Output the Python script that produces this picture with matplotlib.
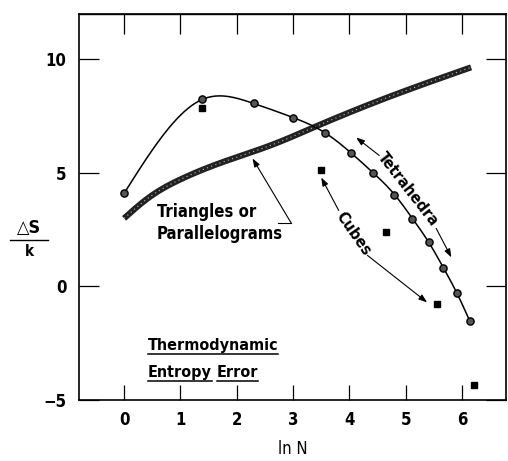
import numpy as np
import matplotlib
matplotlib.use("Agg")
import matplotlib.pyplot as plt
from matplotlib.lines import Line2D

plt.rcParams['font.family'] = ['DejaVu Sans']
plt.rcParams['font.weight'] = 'bold'
plt.rcParams['font.stretch'] = 'condensed'

# ── Data ──────────────────────────────────────────────────────────────────────
tet_x = [0.0, 1.39, 2.30, 3.00, 3.56, 4.03, 4.42, 4.80, 5.12, 5.41, 5.67, 5.91, 6.14]
tet_y = [4.1, 8.24, 8.06, 7.44, 6.78, 5.88, 5.01, 4.05, 2.99, 1.94, 0.82, -0.30, -1.54]

cube_x = [1.38, 3.49, 4.65, 5.56, 6.21]
cube_y = [7.84, 5.11, 2.40, -0.79, -4.32]

tri_x = [0.0, 0.42, 1.03, 1.61, 2.67, 3.36, 4.65, 6.16]
tri_y = [3.0, 3.88, 4.75, 5.35, 6.28, 7.0, 8.3, 9.65]

x_ticks = [0, 1, 2, 3, 4, 5, 6]
y_ticks = [-5, 0, 5, 10]


def smooth(x, y, n=300):
    """Natural cubic spline through the points (for drawing the curve)."""
    x = np.asarray(x, float)
    y = np.asarray(y, float)
    h = np.diff(x)
    m = len(x)
    A = np.zeros((m, m))
    b = np.zeros(m)
    A[0, 0] = A[-1, -1] = 1
    for i in range(1, m - 1):
        A[i, i - 1] = h[i - 1]
        A[i, i] = 2 * (h[i - 1] + h[i])
        A[i, i + 1] = h[i]
        b[i] = 3 * ((y[i + 1] - y[i]) / h[i] - (y[i] - y[i - 1]) / h[i - 1])
    c = np.linalg.solve(A, b)
    bb = (y[1:] - y[:-1]) / h - h * (2 * c[:-1] + c[1:]) / 3
    d = (c[1:] - c[:-1]) / (3 * h)
    xs = np.linspace(x[0], x[-1], n)
    idx = np.clip(np.searchsorted(x, xs) - 1, 0, m - 2)
    dx = xs - x[idx]
    ys = y[idx] + bb[idx] * dx + c[idx] * dx ** 2 + d[idx] * dx ** 3
    return xs, ys


# ── Plot ──────────────────────────────────────────────────────────────────────
fig = plt.figure(figsize=(5.08, 4.61), dpi=100)
ax = fig.add_axes([79 / 508, 1 - 400 / 461, 427 / 508, 386 / 461])

# thick textured line
sx, sy = smooth(tri_x, tri_y)
ax.plot(sx, sy, color="#222222", lw=4.4, solid_capstyle="butt", zorder=2)
ax.plot(sx, sy, color="#bbbbbb", lw=0.8, ls=(0, (1, 3)), zorder=3)

# tetrahedra curve
sx, sy = smooth(tet_x, tet_y)
ax.plot(sx, sy, color="black", lw=1.1, zorder=4)
ax.plot(tet_x, tet_y, "o", ms=5.2, mfc="#555555", mec="black", mew=1.0, zorder=5)

# cubes
ax.plot(cube_x, cube_y, "s", ms=5, mfc="black", mec="black", zorder=5)

ax.set_xlim(-0.8, 6.78)
ax.set_ylim(-5, 12)
ax.set_xticks(x_ticks)
ax.set_yticks(y_ticks)
ax.set_yticklabels(["\u22125", "0", "5", "10"])
ax.tick_params(axis="x", direction="in", length=10.8, width=0.9, labelsize=12, pad=8)
ax.tick_params(axis="y", direction="in", length=14.4, width=0.9, labelsize=12,
               right=True, pad=9)
top = ax.secondary_xaxis("top")
top.set_xticks(x_ticks)
top.set_xticklabels([])
top.tick_params(direction="in", length=14.4, width=0.9)
for sp in ax.spines.values():
    sp.set_linewidth(1.2)
top.spines["top"].set_linewidth(1.0)
ax.set_xlabel("ln N", fontsize=12, labelpad=8)

arrow = dict(arrowstyle="-|>,head_length=0.5,head_width=0.18", color="black",
             lw=0.8, shrinkA=0, shrinkB=0)

# Triangles or Parallelograms
ax.text(0.58, 3.30, "Triangles or", fontsize=12, ha="left", va="center")
ax.text(0.58, 2.33, "Parallelograms", fontsize=12, ha="left", va="center")
ax.plot([2.73, 2.97], [2.78, 2.78], color="black", lw=0.8)
ax.annotate("", xy=(2.28, 5.64), xytext=(2.97, 2.78), arrowprops=arrow)

# Tetrahedra
ax.text(5.04, 4.27, "Tetrahedra", fontsize=11.5, rotation=-52,
        ha="center", va="center", rotation_mode="anchor")
ax.annotate("", xy=(4.12, 6.56), xytext=(4.53, 5.77), arrowprops=arrow)
ax.annotate("", xy=(5.81, 1.28), xytext=(5.54, 2.56), arrowprops=arrow)

# Cubes
ax.text(4.07, 2.33, "Cubes", fontsize=11.5, rotation=-55,
        ha="center", va="center", rotation_mode="anchor")
ax.annotate("", xy=(3.50, 4.80), xytext=(3.81, 3.35), arrowprops=arrow)
ax.annotate("", xy=(5.38, -0.70), xytext=(4.32, 1.37), arrowprops=arrow)

# Thermodynamic Entropy Error (underlined)
t1 = ax.text(0.42, -2.6, "Thermodynamic", fontsize=11.5, ha="left", va="center")
t2 = ax.text(0.42, -3.78, "Entropy", fontsize=11.5, ha="left", va="center")
fig.canvas.draw()
r = fig.canvas.get_renderer()
bb2 = t2.get_window_extent(r)
x3 = ax.transData.inverted().transform((bb2.x1 + 5, bb2.y0))[0]
t3 = ax.text(x3, -3.78, "Error", fontsize=11.5, ha="left", va="center")

# y label as a fraction
fig.text(29 / 508, 1 - 228 / 461, "\u25b3S", fontsize=13, ha="center", va="center")
fig.add_artist(Line2D([10 / 508, 48 / 508], [1 - 240 / 461, 1 - 240 / 461],
                      color="black", lw=1.0))
fig.text(29 / 508, 1 - 251 / 461, "k", fontsize=11, ha="center", va="center")

fig.canvas.draw()
for t in (t1, t2, t3):
    bb = t.get_window_extent(r)
    yb = bb.y0 - 1
    fig.add_artist(Line2D([bb.x0 / 508, bb.x1 / 508], [yb / 461, yb / 461],
                          color="black", lw=1.1))

fig.savefig("out.png", dpi=100)
